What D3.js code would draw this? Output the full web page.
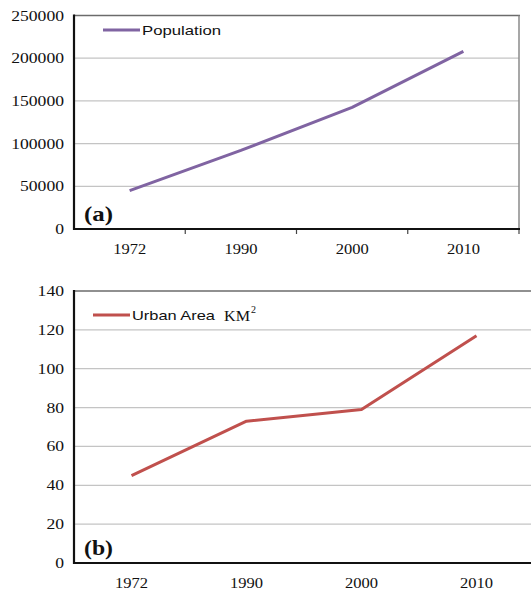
<!DOCTYPE html>
<html lang="en">
<head>
    <meta charset="UTF-8">
    <title>Population and Urban Area</title>
    <script src="https://cdnjs.cloudflare.com/ajax/libs/d3/7.8.5/d3.min.js"></script>
    <style>
        body { margin: 0; background: #fff; }
        svg text { fill: #111; }
        .serif { font-family: "Liberation Serif", "DejaVu Serif", "Times New Roman", serif; }
        .sans { font-family: "Liberation Sans", "DejaVu Sans", Arial, sans-serif; }
    </style>
</head>
<body>
    <svg id="chart" width="531" height="596"></svg>
    <script>
        // Data
        const years = ["1972", "1990", "2000", "2010"];
        const population = [45000, 92000, 142500, 208000];
        const urbanArea = [45, 73, 79, 117];
        const popTicks = [0, 50000, 100000, 150000, 200000, 250000];
        const areaTicks = [0, 20, 40, 60, 80, 100, 120, 140];

        const svg = d3.select("#chart");

        // stretch text horizontally a bit like the scanned figure
        function stretched(g, str, x, y, opts) {
            const t = g.append("text")
                .attr("class", opts.family)
                .attr("x", x).attr("y", y)
                .style("font-size", opts.size + "px")
                .style("font-weight", opts.weight || "normal")
                .attr("text-anchor", opts.anchor || "start")
                .text(str);
            if (opts.len) t.attr("textLength", opts.len).attr("lengthAdjust", "spacingAndGlyphs");
            return t;
        }

        function drawPanel(cfg) {
            const g = svg.append("g");
            const x = d3.scaleBand().domain(years).range([cfg.left, cfg.right]);
            const y = d3.scaleLinear().domain([0, cfg.max]).range([cfg.bottom, cfg.top]);

            // gridlines
            g.selectAll(".grid").data(cfg.ticks.slice(1, -1)).enter().append("line")
                .attr("x1", cfg.left).attr("x2", cfg.right)
                .attr("y1", d => y(d)).attr("y2", d => y(d))
                .attr("stroke", "#c4c4c4").attr("stroke-width", 1.2);

            // frame top/right
            g.append("line").attr("x1", cfg.left).attr("x2", cfg.right + 1)
                .attr("y1", cfg.top).attr("y2", cfg.top)
                .attr("stroke", "#6b6b6b").attr("stroke-width", 1.5);
            if (cfg.rightBorder) {
                g.append("line").attr("x1", cfg.right).attr("x2", cfg.right)
                    .attr("y1", cfg.top).attr("y2", cfg.bottom)
                    .attr("stroke", "#8a8a8a").attr("stroke-width", 1.5);
            }

            // y labels
            cfg.ticks.forEach(d => {
                stretched(g, String(d), cfg.left - 10, y(d) + 5,
                    {family: "serif", size: 14, anchor: "end", len: String(d).length * 8.8});
            });

            // x labels
            years.forEach(d => {
                stretched(g, d, x(d) + x.bandwidth() / 2, cfg.bottom + cfg.labelDy,
                    {family: "serif", size: 14, anchor: "middle", len: 33});
            });

            // x tick marks
            if (cfg.xTicks) {
                years.forEach(d => {
                    const xx = x(d) + x.bandwidth();
                    g.append("line").attr("x1", xx).attr("x2", xx)
                        .attr("y1", cfg.bottom).attr("y2", cfg.bottom + 5)
                        .attr("stroke", "#444").attr("stroke-width", 1.2);
                });
            }

            // axes
            g.append("line").attr("x1", cfg.left).attr("x2", cfg.right + 1)
                .attr("y1", cfg.bottom).attr("y2", cfg.bottom)
                .attr("stroke", "#111").attr("stroke-width", 2.2);
            g.append("line").attr("x1", cfg.left).attr("x2", cfg.left)
                .attr("y1", cfg.top - 1).attr("y2", cfg.bottom + 1)
                .attr("stroke", "#111").attr("stroke-width", 2.2);

            // series line
            const line = d3.line()
                .x((d, i) => x(years[i]) + x.bandwidth() / 2)
                .y(d => y(d));
            g.append("path").datum(cfg.values)
                .attr("d", line)
                .attr("fill", "none")
                .attr("stroke", cfg.color)
                .attr("stroke-width", 3)
                .attr("stroke-linejoin", "round");

            // legend
            g.append("line")
                .attr("x1", cfg.legendX).attr("x2", cfg.legendX + 37)
                .attr("y1", cfg.legendY).attr("y2", cfg.legendY)
                .attr("stroke", cfg.color).attr("stroke-width", 3);
            stretched(g, cfg.legendText, cfg.legendX + 39, cfg.legendY + 5,
                {family: "sans", size: 13, len: cfg.legendLen});

            // panel letter
            stretched(g, cfg.letter, cfg.left + 10, cfg.bottom - 8,
                {family: "serif", size: 21, weight: "bold", len: 29});
            return g;
        }

        drawPanel({
            left: 74, right: 519, top: 15.5, bottom: 229, max: 250000,
            ticks: popTicks, values: population, color: "#8064a2",
            rightBorder: true, xTicks: true, labelDy: 25,
            legendX: 103, legendY: 30, legendText: "Population", legendLen: 79,
            letter: "(a)"
        });

        const pb = drawPanel({
            left: 74, right: 534, top: 291, bottom: 563, max: 140,
            ticks: areaTicks, values: urbanArea, color: "#c0504d",
            rightBorder: false, xTicks: false, labelDy: 25,
            legendX: 93, legendY: 315, legendText: "Urban Area", legendLen: 83,
            letter: "(b)"
        });
        // KM² unit in the legend
        stretched(pb, "KM", 224, 321, {family: "serif", size: 15, len: 26});
        stretched(pb, "2", 251, 313, {family: "serif", size: 10});
    </script>
</body>
</html>
